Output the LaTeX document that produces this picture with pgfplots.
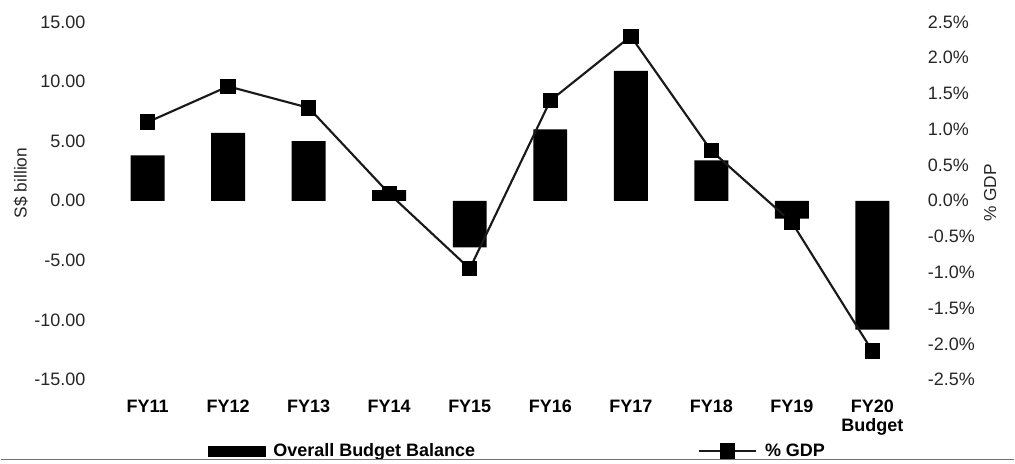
\documentclass[border=0pt]{standalone}
\usepackage{fontspec}
\setmainfont{Liberation Sans}
\usepackage{pgfplots}
\pgfplotsset{compat=1.18}

% Overall budget balance (S$ billion) and balance as % of GDP
\pgfplotstableread{
x  bal   gdp
0  3.8   1.1
1  5.7   1.6
2  5.0   1.3
3  0.9   0.1
4  -3.9  -0.95
5  6.0   1.4
6  10.9  2.3
7  3.4   0.7
8  -1.5  -0.3
9  -10.8 -2.1
}\budget

\pgfplotsset{
  twin/.style={
    scale only axis,
    width=604.5pt, height=268.5pt,
    xmin=-0.5, xmax=9.5,
    axis line style={draw=none},
    major tick length=0pt,
    tick label style={font=\fontsize{13.5}{16}\selectfont, text=black!85},
    ylabel style={font=\fontsize{13}{15}\selectfont, text=black!85},
  },
  gdplegend/.style={
    legend image code/.code={
      \draw[##1, mark repeat=2, mark phase=2] plot coordinates {(0pt,0pt) (21.5pt,0pt) (43pt,0pt)};}
  },
  barlegend/.style={
    legend image code/.code={\fill[black] (0pt,-3.5pt) rectangle (43pt,3.5pt);}
  },
}

\begin{document}
\begin{tikzpicture}
\begin{axis}[twin,
  ymin=-15, ymax=15,
  ytick={-15,-10,-5,0,5,10,15},
  yticklabels={-15.00,-10.00,-5.00,0.00,5.00,10.00,15.00},
  yticklabel style={xshift=-13pt},
  xtick={0,...,9},
  xticklabels={FY11,FY12,FY13,FY14,FY15,FY16,FY17,FY18,FY19,{FY20\\Budget}},
  xticklabel style={font=\bfseries\fontsize{13.5}{14}\selectfont, text=black, align=center, yshift=-12pt},
  ylabel={S\$ billion},
  ylabel style={at={(ticklabel cs:0.55)}, yshift=-2pt},
  ybar, bar width=25.5pt,
]
\addplot[fill=black, draw=none, bar shift=0pt] table[x=x, y=bal] {\budget};
\end{axis}

\begin{axis}[twin,
  ymin=-2.5, ymax=2.5,
  axis y line*=right,
  axis x line=none,
  ytick={-2.5,-2,-1.5,-1,-0.5,0,0.5,1,1.5,2,2.5},
  yticklabels={-2.5\%,-2.0\%,-1.5\%,-1.0\%,-0.5\%,0.0\%,0.5\%,1.0\%,1.5\%,2.0\%,2.5\%},
  yticklabel style={xshift=8pt},
  ylabel={\% GDP},
  ylabel style={xshift=6pt},
  legend columns=2,
  legend style={at={(0.124,-0.2)}, anchor=west, draw=none, fill=none,
    inner sep=0pt, font=\bfseries\fontsize{13.5}{15}\selectfont,
    /tikz/every odd column/.append style={column sep=4pt},
    /tikz/every even column/.append style={column sep=165pt}},
]
\addlegendimage{barlegend}
\addlegendentry{Overall Budget Balance}
\addplot[black!90, line width=1.6pt, mark=square*, mark size=5pt,
  mark options={fill=black, draw=black}, gdplegend]
  table[x=x, y=gdp] {\budget};
\addlegendentry{\% GDP}
\end{axis}

% thin rule under the chart
\draw[black!55, line width=0.8pt] (-80.25pt,-60pt) -- (681pt,-60pt);
\path (-80.25pt,-63pt) rectangle (681pt,285pt);
\end{tikzpicture}
\end{document}
